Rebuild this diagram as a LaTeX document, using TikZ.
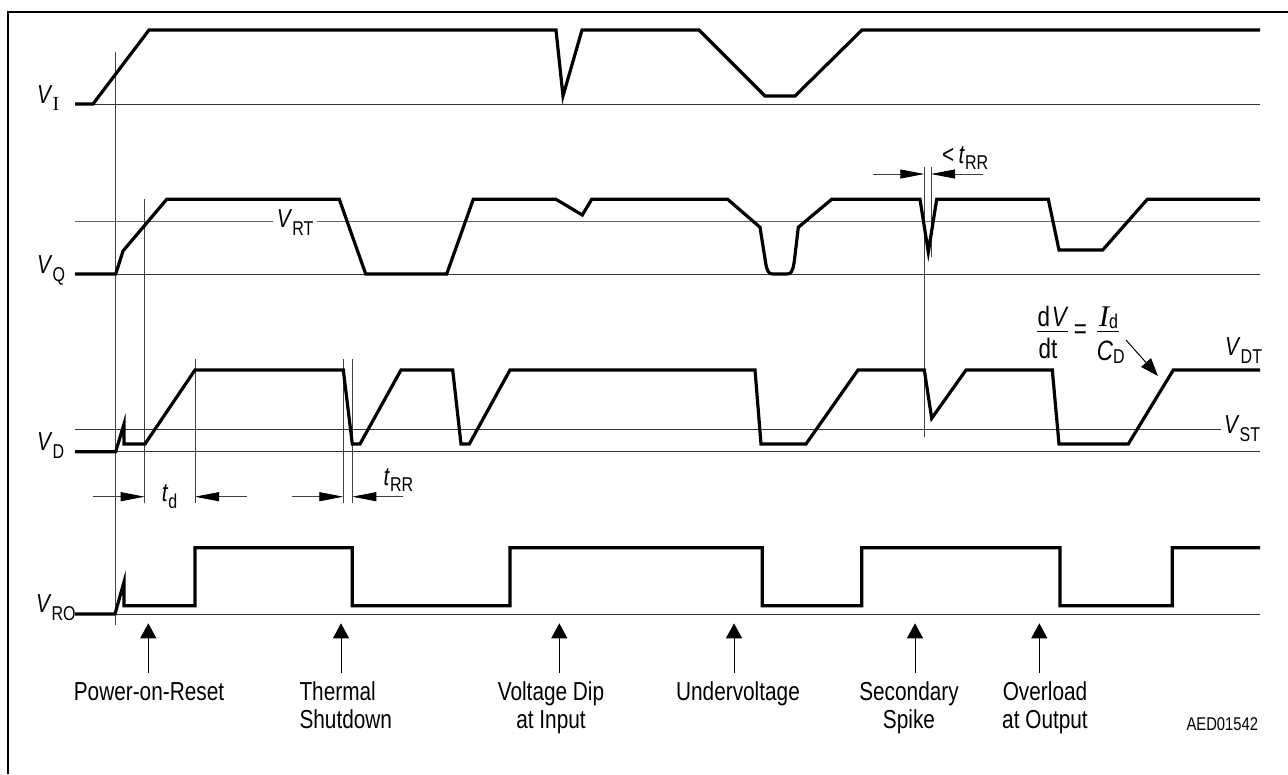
\documentclass[tikz,border=0pt]{standalone}
\usepackage{fontspec}
\setmainfont{Liberation Sans}[FakeStretch=0.8]
\newfontfamily\serfont{Liberation Serif}
\usetikzlibrary{arrows.meta}
\tikzset{
  wave/.style={line width=3.2pt, line join=miter, line cap=butt},
  thinline/.style={line width=1pt, black!80},
  guide/.style={line width=0.8pt, black!75},
  dimarrow/.style={line width=0.8pt, black!75, -{Triangle[length=24pt,width=9pt,color=black]}},
  evarrow/.style={line width=1pt, -{Triangle[length=15pt,width=16pt]}},
  lbl/.style={inner sep=0pt, font=\fontsize{26}{28}\selectfont},
  evlbl/.style={inner sep=0pt, font=\fontsize{26}{28}\selectfont},
  fraclbl/.style={inner sep=0pt, font=\fontsize{28}{30}\selectfont},
}
\newcommand\mysub[1]{\raisebox{-8pt}{\fontsize{20}{20}\selectfont #1}}
\newcommand\mytsub[1]{\raisebox{-6.5pt}{\fontsize{20}{20}\selectfont #1}}
\begin{document}
\begin{tikzpicture}[x=1pt,y=-1pt]
\useasboundingbox (0,0) rectangle (1288,774);
% frame
\draw[line width=2pt] (8,774) -- (8,12) -- (1288,12);

% guide verticals
\draw[guide] (115.3,52) -- (115.3,625);
\draw[guide] (144.7,199) -- (144.7,503);
\draw[guide] (195,359.3) -- (195,503.3);
\draw[guide] (343.3,359.3) -- (343.3,503.3);
\draw[guide] (352.3,359.3) -- (352.3,503.3);
\draw[guide] (924.3,166.7) -- (924.3,436.7);
\draw[guide] (931,166.7) -- (931,257);

% ---------- V_I ----------
\node[lbl, anchor=base west] (vi) at (37,103) {\textit{V}\raisebox{-7pt}{\serfont\fontsize{20}{20}\selectfont I}};
\draw[thinline] (75,104) -- (1260,104);
\draw[wave] (75,104) -- (93,104) -- (149,30) -- (556,30) -- (563,96) -- (582,30) -- (699,30)
  -- (765,96) -- (795,96) -- (862,30) -- (1260,30);

% ---------- V_Q ----------
\node[lbl, anchor=base west] (vq) at (37,273) {\textit{V}\mysub{Q}};
\node[lbl, anchor=base west] (vrt) at (276.7,227.3) {\textit{V}\mysub{RT}};
\draw[thinline] (75,274) -- (1260,274);
\draw[thinline, black!60] (75,221.7) -- (273,221.7);
\draw[thinline, black!60] (317.3,221.7) -- (1260,221.7);
\draw[wave] (75,274) -- (115.7,274) -- (123,251) -- (166.7,199.3) -- (339.3,199.3) -- (365.7,274)
  -- (446.7,274) -- (473.3,199.3) -- (556,199.3) -- (582.3,215) -- (591.7,199.3) -- (727.7,199.3)
  -- (760,227.3) -- (765.5,262) .. controls (767,272) and (769,274) .. (773,274) -- (786.7,274)
  .. controls (790.7,274) and (792.7,272) .. (794.2,262) -- (798.3,227.3) -- (831.7,199.3)
  -- (920,199.3) -- (928.3,252) -- (936.7,199.3) -- (1048.3,199.3) -- (1059,250) -- (1102.7,250)
  -- (1147.3,199.3) -- (1260,199.3);

% < t_RR
\node[lbl, anchor=base west] (ltrr) at (942,163) {<\,\textit{t}\mytsub{RR}};
\coordinate (lta) at (873.3,174);
\coordinate (ltb) at (924.3,174);
\coordinate (ltc) at (983.3,174);
\coordinate (ltd) at (931,174);
\draw[dimarrow] (lta) -- (ltb);
\draw[dimarrow] (ltc) -- (ltd);

% ---------- V_D ----------
\node[lbl, anchor=base west] (vd) at (37,450) {\textit{V}\mysub{D}};
\node[lbl, anchor=base west] (vst) at (1224,433) {\textit{V}\mysub{ST}};
\node[lbl, anchor=base west] (vdt) at (1225,355) {\textit{V}\mysub{DT}};
\draw[thinline] (75,451.7) -- (1260,451.7);
\draw[thinline] (75,429) -- (1221,429);
\draw[wave] (75,451.7) -- (115.7,451.7) -- (124,424) -- (124,444) -- (145,444) -- (195,370)
  -- (343.3,370) -- (352.3,444) -- (360,444) -- (401,370) -- (452.7,370) -- (461,444)
  -- (469.3,444) -- (510,370) -- (755,370) -- (761,444) -- (806,444) -- (858,370)
  -- (924.3,370) -- (931.7,418.3) -- (966,370) -- (1052.3,370) -- (1059,444) -- (1128.3,444)
  -- (1173.3,370) -- (1260,370);

% dV/dt = Id/CD
\node[fraclbl, anchor=base west] (dvn) at (1037.3,326.7) {d\kern2pt\textit{V}};
\node[fraclbl, anchor=base] (dvd) at (1048,358.3) {dt};
\draw[line width=1pt] (1037,331.7) -- (1068,331.7);
\node[fraclbl, anchor=center] (eq) at (1080.5,332) {=};
\node[fraclbl, anchor=base west] (idn) at (1099,326.7) {{\serfont\itshape\fontsize{30}{30}\selectfont I}\raisebox{-2pt}{\fontsize{20}{20}\selectfont d}};
\node[fraclbl, anchor=base west] (cdd) at (1096.7,360) {\textit{C}\raisebox{-3pt}{\fontsize{20}{20}\selectfont D}};
\draw[line width=1pt] (1096.7,331.7) -- (1119.3,331.7);
\coordinate (slS) at (1126,340);
\coordinate (slE) at (1158,376);
\draw[line width=1pt, -{Triangle[length=18pt,width=13pt]}] (slS) -- (slE);

% t_d and t_RR dimensions
\node[lbl, anchor=base west] (td) at (161.7,501.7) {\textit{t}\mytsub{d}};
\node[lbl, anchor=base west] (trr) at (383.3,485) {\textit{t}\mytsub{RR}};
\coordinate (tda) at (93.3,496.7);
\coordinate (tdb) at (144.7,496.7);
\coordinate (tdc) at (246.7,496.7);
\coordinate (tdd) at (195,496.7);
\coordinate (tra) at (291.7,496.7);
\coordinate (trb) at (343.3,496.7);
\coordinate (trc) at (403.3,496.7);
\coordinate (trd) at (352.3,496.7);
\draw[dimarrow] (tda) -- (tdb);
\draw[dimarrow] (tdc) -- (tdd);
\draw[dimarrow] (tra) -- (trb);
\draw[dimarrow] (trc) -- (trd);

% ---------- V_RO ----------
\node[lbl, anchor=base west] (vro) at (36,612) {\textit{V}\mysub{RO}};
\draw[thinline] (75,614) -- (1260,614);
\draw[wave] (75,614) -- (115,614) -- (124,582) -- (124,605.7) -- (195,605.7) -- (195,547.7)
  -- (352.3,547.7) -- (352.3,605.7) -- (510,605.7) -- (510,547.7) -- (762.3,547.7)
  -- (762.3,605.7) -- (861.7,605.7) -- (861.7,547.7) -- (1060,547.7) -- (1060,605.7)
  -- (1172.3,605.7) -- (1172.3,547.7) -- (1260,547.7);

% ---------- events ----------
\node[evlbl, anchor=base] (e1) at (149,700) {Power-on-Reset};
\node[evlbl, anchor=base west] (e2) at (299.3,700) {\begin{tabular}[t]{@{}l@{}}Thermal\\Shutdown\end{tabular}};
\node[evlbl, anchor=base] (e3) at (551,700) {\begin{tabular}[t]{@{}c@{}}Voltage Dip\\at Input\end{tabular}};
\node[evlbl, anchor=base] (e4) at (738,700) {Undervoltage};
\node[evlbl, anchor=base] (e5) at (909,700) {\begin{tabular}[t]{@{}c@{}}Secondary\\Spike\end{tabular}};
\node[evlbl, anchor=base] (e6) at (1045,700) {\begin{tabular}[t]{@{}c@{}}Overload\\at Output\end{tabular}};
\node[inner sep=0pt, anchor=base east, font=\fontsize{18.5}{20}\selectfont] (aed) at (1258.3,730) {AED01542};

\foreach \n/\x in {1/148.3, 2/341, 3/559.3, 4/734, 5/915, 6/1039.3} {
  \coordinate (a\n) at (\x,673.3);
  \coordinate (b\n) at (\x,623.3);
  \draw[evarrow] (a\n) -- (b\n);
}
\end{tikzpicture}
\end{document}
